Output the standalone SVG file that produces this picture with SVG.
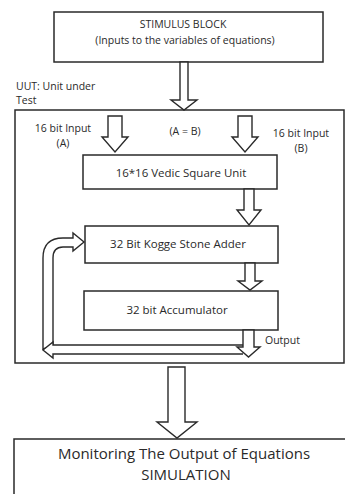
<svg xmlns="http://www.w3.org/2000/svg" width="345" height="494" viewBox="0 0 345 494">
<style>
.box{fill:#fff;stroke:#2a2a2a;stroke-width:1.5}
.arr{fill:#fff;stroke:#2a2a2a;stroke-width:1.4;stroke-linejoin:miter}
text{font-family:"Open Sans","Liberation Sans",sans-serif;fill:#2a2a2a}
.c{text-anchor:middle}
.s10{font-size:10.5px}
.s11{font-size:11.5px}
.s15{font-size:15px}
</style>
<rect x="0" y="0" width="345" height="494" fill="#fff"/>
<g id="stimulus">
<rect class="box" x="54" y="12" width="269" height="50"/>
<text class="c s10" x="183" y="28">STIMULUS BLOCK</text>
<text class="c s10" x="185" y="44">(Inputs to the variables of equations)</text>
</g>
<g id="uut">
<rect class="box" x="15" y="110" width="329" height="253"/>
<text class="s10" x="16" y="90">UUT: Unit under</text>
<text class="s10" x="16" y="104">Test</text>
<text class="c s10" x="63" y="132">16 bit Input</text>
<text class="c s10" x="63" y="147">(A)</text>
<text class="c s10" x="185" y="135">(A = B)</text>
<text class="c s10" x="301" y="137">16 bit Input</text>
<text class="c s10" x="301" y="152">(B)</text>
<text class="s10" x="265" y="344">Output</text>
</g>
<g id="vedic">
<rect class="box" x="83" y="155" width="194" height="34"/>
<text class="c s11" x="181" y="177">16*16 Vedic Square Unit</text>
</g>
<g id="kogge">
<rect class="box" x="85" y="226" width="193" height="37"/>
<text class="c s11" x="178" y="248">32 Bit Kogge Stone Adder</text>
</g>
<g id="accumulator">
<rect class="box" x="84" y="291" width="194" height="39"/>
<text class="c s11" x="177" y="314">32 bit Accumulator</text>
</g>
<g id="monitoring">
<rect class="box" x="14" y="439" width="334" height="60"/>
<text class="c s15" x="184" y="459">Monitoring The Output of Equations</text>
<text class="c s15" x="186" y="480">SIMULATION</text>
</g>
<g id="connectors">
<polygon class="arr" points="180,62 188,62 188,100 197,100 184,110 171,100 180,100"/>
<polygon class="arr" points="108,116 122,116 122,137 128,137 115,152 102,137 108,137"/>
<polygon class="arr" points="238,116 252,116 252,137 258,137 245,152 232,137 238,137"/>
<polygon class="arr" points="244,189 254,189 254,210 261,210 249,225 237,210 244,210"/>
<polygon class="arr" points="245,263 255,263 255,281 262,281 250,290 238,281 245,281"/>
<path class="arr" d="M43,349 V258 Q43,238 63,238 H73 V233 L84,242 L73,251 V247 H63 Q53,247 53,258 V346 Z"/>
<path class="arr" d="M243,345 H53 V342 L43,350 L53,358 V354 H243"/>
<polygon class="arr" points="243,330 254,330 254,347 260,347 248.5,357 237,347 243,347"/>
<polygon class="arr" points="168,367 185,367 185,422 197,422 177,438 157,422 168,422"/>
</g>
</svg>
